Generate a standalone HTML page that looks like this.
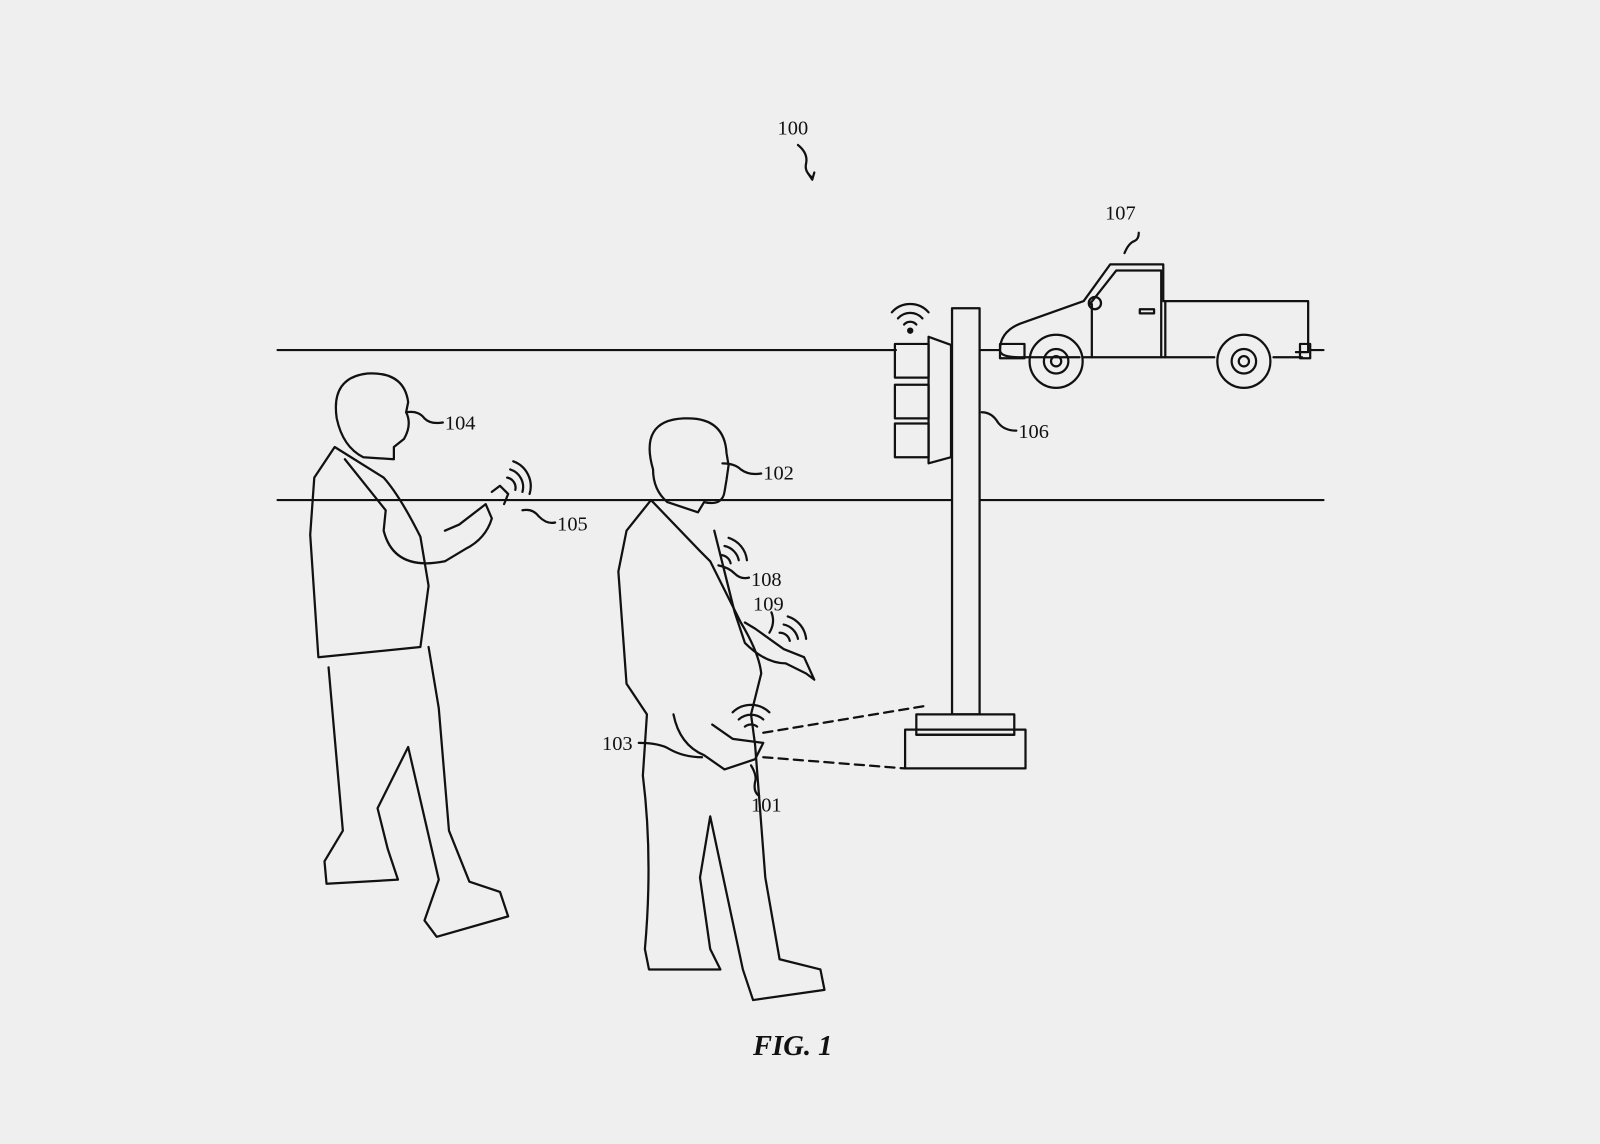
<!DOCTYPE html>
<html><head><style>
html,body{margin:0;padding:0;background:#efefef;}
svg{display:block}
text{font-family:"Liberation Serif",serif;font-size:20px;fill:#111}
</style></head><body>
<svg width="1600" height="1144" viewBox="0 0 1568 1121" xmlns="http://www.w3.org/2000/svg">
<rect width="1568" height="1121" fill="#efefef"/>
<g fill="none" stroke="#111" stroke-width="2.2" stroke-linecap="round" stroke-linejoin="round">
<!-- road lines -->
<line x1="272" y1="343" x2="878" y2="343"/>
<line x1="960" y1="343" x2="980" y2="343"/>
<line x1="1285" y1="343" x2="1297" y2="343"/>
<line x1="272" y1="490" x2="933" y2="490"/>
<line x1="960" y1="490" x2="1297" y2="490"/>
<!-- 100 arrow -->
<path d="M782 142 q10 8 8 18 q-2 8 6 14"/>
<path d="M792 170 l4 6 l2 -7"/>
<!-- pole -->
<rect x="933" y="302" width="27" height="398" fill="#efefef"/>
<path d="M898 700 h96 v20 h-96 z"/>
<path d="M887 715 h118 v38 h-118 z"/>
<line x1="898" y1="720" x2="994" y2="720"/>
<!-- dashed beam -->
<path d="M748 718 L905 692" stroke-dasharray="9 6"/>
<path d="M748 742 L887 753" stroke-dasharray="9 6"/>
<!-- traffic light -->
<path d="M910 330 l22 8 v110 l-22 6 z"/>
<rect x="877" y="337" width="33" height="33"/>
<rect x="877" y="377" width="33" height="33"/>
<rect x="877" y="415" width="33" height="33"/>
<path d="M886 318 a8 8 0 0 1 12 0 M880 312 a16 16 0 0 1 24 0 M874 306 a24 24 0 0 1 36 0"/>
<circle cx="892" cy="324" r="2" fill="#111"/>
<!-- truck -->
<path d="M980 343 q0 -18 20 -26 l62 -22 l26 -36 h52 v36 h142 v50 h-12 M1058 350 h-60 q-18 0 -18 -7"/>
<path d="M1068 298 l26 -33 h44 v85 M1070 298 v52 M1142 296 v54"/>
<line x1="1062" y1="350" x2="1190" y2="350"/>
<line x1="1248" y1="350" x2="1276" y2="350"/>
<circle cx="1073" cy="297" r="6"/>
<rect x="1117" y="303" width="14" height="4"/>
<rect x="980" y="337" width="24" height="14"/>
<rect x="1274" y="337" width="10" height="14"/>
<circle cx="1035" cy="354" r="26"/><circle cx="1035" cy="354" r="12"/><circle cx="1035" cy="354" r="5"/>
<circle cx="1219" cy="354" r="26"/><circle cx="1219" cy="354" r="12"/><circle cx="1219" cy="354" r="5"/>
<path d="M1102 248 q4 -10 10 -12 q4 -2 4 -8"/>
<!-- person 104 -->
<path d="M330 410 q-6 -40 30 -44 q36 -2 40 28 l-2 10 q6 12 -2 26 l-10 8 l0 12 l-30 -2 q-20 -10 -26 -38 z"/>
<path d="M328 438 l-20 30 l-4 56 l8 120 l100 -10 l8 -60 l-8 -48 q-20 -40 -36 -58 z"/>
<path d="M338 450 l40 50 l-2 20 q10 40 60 30 l20 -12 q20 -10 26 -30 l-6 -14 l-26 20 l-14 6"/>
<path d="M322 654 l14 160 l-18 30 l2 22 l70 -4 l-10 -30 l-10 -40 l30 -60 l30 130 l-14 40 l12 16 l70 -20 l-8 -24 l-30 -10 l-20 -50 l-10 -120 l-10 -60"/>
<path d="M482 482 l8 -6 l8 8 l-4 10"/>
<path d="M497 468 a10 10 0 0 1 8 12 M500 460 a18 18 0 0 1 12 22 M503 452 a26 26 0 0 1 16 32"/>
<!-- person 102 -->
<path d="M640 460 q-14 -48 30 -50 q40 -2 42 34 l2 12 l-2 14 l-2 12 q-2 14 -20 10 l-6 10 l-30 -10 q-14 -12 -14 -32 z"/>
<path d="M638 490 l-24 30 l-8 40 l8 110 l20 30 l-4 60 q10 80 2 170 l4 20 l70 0 l-10 -20 l-10 -70 l10 -60 l32 150 l10 30 l70 -10 l-4 -20 l-40 -10 l-14 -80 l-10 -130 l-4 -30 l10 -40 q-2 -20 -20 -50 l-30 -60 l-10 -10 z"/>
<path d="M700 520 l20 80 l10 30 q20 20 40 20 l20 10 l8 6 l-10 -22 l-20 -8 l-28 -20 l-10 -6"/>
<path d="M660 700 q6 30 30 40 l20 14 l30 -10 l8 -16 l-30 -4 l-20 -14"/>
<path d="M706 544 a10 10 0 0 1 10 8 M710 535 a18 18 0 0 1 14 14 M714 527 a26 26 0 0 1 18 22"/>
<path d="M764 620 a10 10 0 0 1 10 8 M768 612 a18 18 0 0 1 14 14 M772 604 a26 26 0 0 1 18 22"/>
<path d="M730 712 a10 10 0 0 1 12 0 M724 705 a18 18 0 0 1 24 0 M718 698 a26 26 0 0 1 36 0"/>
<!-- leaders -->
<path d="M398 404 q12 -2 18 6 q6 6 18 4"/>
<path d="M708 454 q12 0 18 6 q8 6 20 4"/>
<path d="M512 500 q10 -2 16 6 q8 8 16 6"/>
<path d="M962 404 q10 0 16 10 q6 8 18 8"/>
<path d="M704 554 q10 2 16 8 q6 6 14 4"/>
<path d="M756 600 q4 10 -2 20"/>
<path d="M626 728 q20 0 30 6 q14 8 32 8"/>
<path d="M736 750 q6 10 4 16 q-2 10 4 14"/>
</g>
<text x="762" y="132">100</text>
<text x="1083" y="215">107</text>
<text x="436" y="421">104</text>
<text x="998" y="429">106</text>
<text x="748" y="470">102</text>
<text x="546" y="520">105</text>
<text x="736" y="574">108</text>
<text x="738" y="598">109</text>
<text x="590" y="735">103</text>
<text x="736" y="795">101</text>
<text x="738" y="1034" style="font-size:28px;font-weight:bold;font-style:italic">FIG. 1</text>
</svg>
</body></html>
